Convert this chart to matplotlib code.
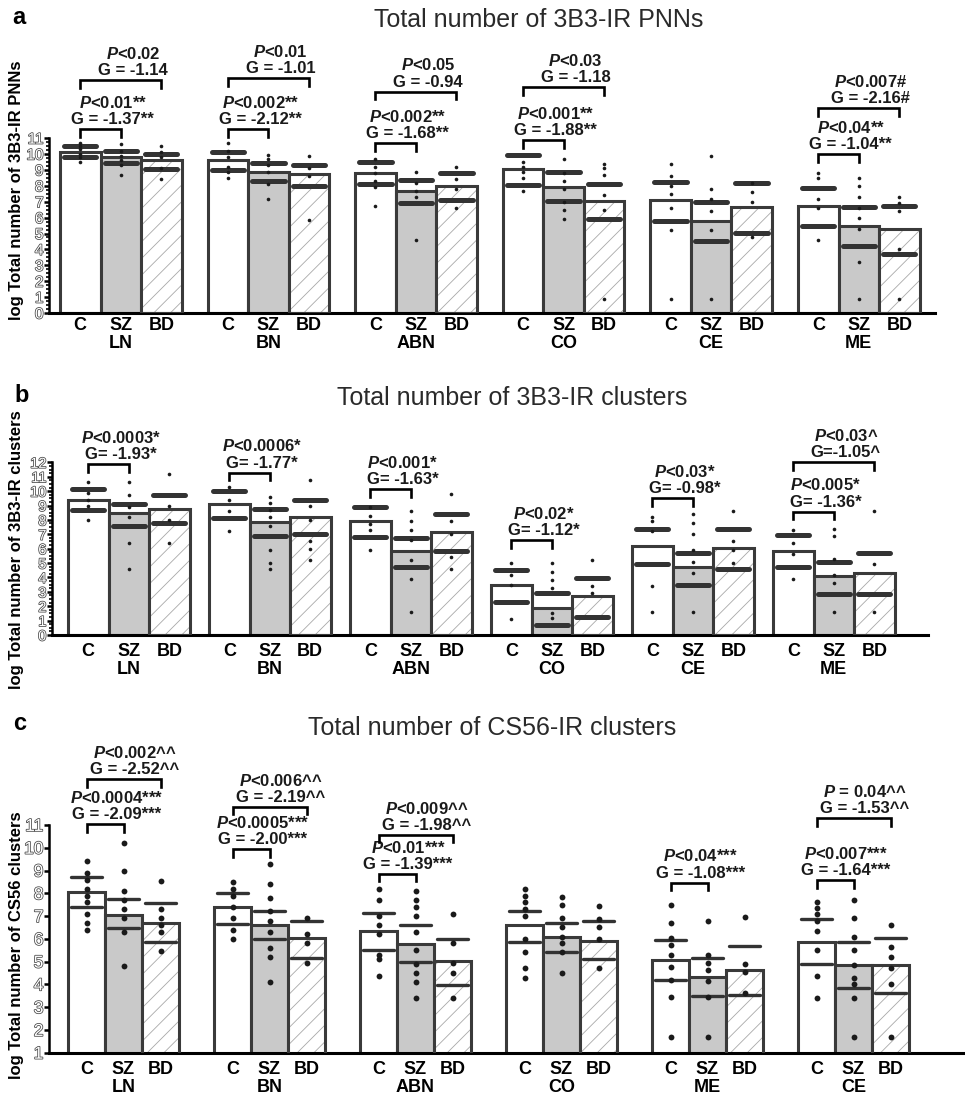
import matplotlib
matplotlib.use("Agg")
import matplotlib.pyplot as plt
import matplotlib.patheffects as pe
import matplotlib.transforms as mtransforms
from matplotlib.ticker import FixedLocator

plt.rcParams['font.family'] = ['Liberation Sans', 'DejaVu Sans']
plt.rcParams['mathtext.fontset'] = 'custom'
plt.rcParams['mathtext.it'] = 'Liberation Sans:bold:italic'
plt.rcParams['mathtext.rm'] = 'Liberation Sans:bold'
plt.rcParams['hatch.linewidth'] = 0.6

groups = ['C', 'SZ', 'BD']

# ---------------- panel a : 3B3-IR PNNs ----------------
a_regions = ['LN', 'BN', 'ABN', 'CO', 'CE', 'ME']
a_mean = [[10.15, 9.83, 9.6], [9.6, 8.9, 8.75], [8.8, 7.7, 8.0],
          [9.06, 7.9, 7.04], [7.1, 5.8, 6.65], [6.7, 5.5, 5.3]]
a_upper = [[10.52, 10.2, 9.98], [10.15, 9.45, 9.3], [9.52, 8.37, 8.79],
           [9.94, 8.85, 8.13], [8.26, 7.0, 8.18], [7.84, 6.69, 6.73]]
a_lower = [[9.83, 9.41, 9.04], [9.0, 8.3, 8.0], [8.1, 6.9, 7.1],
           [8.05, 7.04, 5.89], [5.79, 4.53, 5.05], [5.49, 4.21, 3.71]]
a_dots = [
    [[10.7, 10.5, 10.3, 10.0, 9.8, 9.5], [10.6, 10.2, 9.9, 9.6, 9.3, 8.7], [10.5, 10.1, 9.8, 9.1, 8.4]],
    [[10.7, 10.2, 9.8, 9.2, 8.9, 8.5], [9.95, 9.7, 9.3, 8.9, 8.1, 7.15], [9.85, 9.1, 8.6, 5.85]],
    [[9.7, 9.2, 8.8, 8.3, 7.9, 6.7], [8.85, 8.2, 7.7, 7.3, 4.6], [9.2, 8.4, 7.8, 6.6]],
    [[9.5, 9.2, 8.9, 8.5, 7.65], [9.7, 8.8, 8.3, 7.8, 7.0, 6.5, 5.9], [9.4, 9.1, 8.7, 7.4, 6.5, 0.9]],
    [[9.4, 8.6, 8.0, 7.5, 6.6, 5.2, 0.9], [9.9, 7.8, 7.2, 6.4, 5.2, 0.9], [8.2, 7.6, 7.0, 4.8]],
    [[8.8, 8.5, 7.2, 6.6, 4.6], [8.5, 8.0, 7.3, 6.6, 6.0, 5.3, 3.2, 0.9], [7.3, 6.9, 6.4, 4.0, 0.9]],
]
# (region, compared group, P line, G line, bracket height)
a_ann = [
    (0, 1, 'P<0.01**', 'G = -1.37**', 11.55),
    (0, 2, 'P<0.02', 'G = -1.14', 14.65),
    (1, 1, 'P<0.002**', 'G = -2.12**', 11.55),
    (1, 2, 'P<0.01', 'G = -1.01', 14.76),
    (2, 1, 'P<0.002**', 'G = -1.68**', 10.67),
    (2, 2, 'P<0.05', 'G = -0.94', 13.92),
    (3, 1, 'P<0.001**', 'G = -1.88**', 10.88),
    (3, 2, 'P<0.03', 'G = -1.18', 14.19),
    (5, 1, 'P<0.04**', 'G = -1.04**', 10.0),
    (5, 2, 'P<0.007#', 'G = -2.16#', 12.87),
]

# ---------------- panel b : 3B3-IR clusters ----------------
b_regions = ['LN', 'BN', 'ABN', 'CO', 'CE', 'ME']
b_mean = [[9.38, 8.45, 8.76], [9.1, 7.83, 8.22], [7.92, 5.84, 7.18],
          [3.47, 1.85, 2.71], [6.18, 4.7, 6.02], [5.84, 4.12, 4.29]]
b_upper = [[10.15, 9.13, 9.7], [10.0, 8.76, 9.36], [8.92, 6.76, 8.43],
           [4.54, 2.9, 3.98], [7.34, 5.72, 7.39], [6.95, 5.1, 5.67]]
b_lower = [[8.66, 7.6, 7.78], [8.1, 6.88, 7.02], [6.79, 4.73, 5.84],
           [2.27, 0.69, 1.27], [4.96, 3.47, 4.56], [4.7, 2.87, 2.85]]
b_dots = [
    [[10.65, 9.9, 9.4, 9.0, 8.0], [10.6, 9.7, 8.9, 8.2, 6.4, 4.6], [11.2, 9.0, 8.0, 6.4]],
    [[10.3, 9.4, 8.6, 7.2], [9.6, 9.2, 8.7, 8.2, 7.6, 5.9, 5.0, 4.6], [10.8, 9.0, 8.0, 6.5, 6.0, 5.2]],
    [[8.9, 8.3, 7.7, 7.3, 5.9], [8.6, 7.9, 7.3, 6.6, 5.2, 3.9, 1.6], [9.8, 7.9, 7.0, 5.4, 4.6]],
    [[5.0, 4.2, 3.5, 1.1], [5.0, 4.4, 3.8, 3.3, 1.5, 1.2], [5.2, 3.4, 2.9]],
    [[8.2, 7.9, 7.2, 3.4, 1.6], [8.4, 7.8, 7.0, 5.9, 5.1, 4.3, 1.6], [8.6, 6.5, 5.9, 5.0]],
    [[7.3, 6.4, 5.6, 3.9], [7.4, 6.9, 5.3, 4.2, 3.6, 1.6], [8.6, 4.9, 1.6]],
]
b_ann = [
    (0, 1, 'P<0.0003*', 'G= -1.93*', 11.86),
    (1, 1, 'P<0.0006*', 'G= -1.77*', 11.28),
    (2, 1, 'P<0.001*', 'G= -1.63*', 10.12),
    (3, 1, 'P<0.02*', 'G= -1.12*', 6.6),
    (4, 1, 'P<0.03*', 'G= -0.98*', 9.5),
    (5, 1, 'P<0.005*', 'G= -1.36*', 8.57),
    (5, 2, 'P<0.03^', 'G=-1.05^', 12.0),
]

# ---------------- panel c : CS56-IR clusters ----------------
c_regions = ['LN', 'BN', 'ABN', 'CO', 'ME', 'CE']
c_mean = [[8.07, 7.05, 6.71], [7.39, 6.61, 6.02], [6.36, 5.77, 5.03],
          [6.61, 6.1, 5.92], [5.07, 4.31, 4.63], [5.87, 4.85, 4.84]]
c_upper = [[8.73, 7.74, 7.56], [8.0, 7.22, 6.78], [7.12, 6.61, 5.99],
           [7.22, 6.71, 6.78], [5.95, 5.17, 5.7], [6.89, 5.87, 6.05]]
c_lower = [[7.39, 6.46, 5.87], [6.65, 5.98, 5.17], [5.51, 5.0, 3.99],
           [5.87, 5.44, 5.1], [4.19, 3.49, 3.53], [4.88, 3.86, 3.64]]
c_dots = [
    [[9.4, 8.9, 8.6, 8.2, 7.9, 7.6, 7.1, 6.7, 6.4], [10.2, 9.0, 8.1, 7.7, 7.3, 6.9, 6.3, 4.8],
     [8.55, 7.3, 6.9, 6.6, 6.3, 5.45]],
    [[8.5, 8.2, 7.9, 7.4, 6.9, 6.4, 6.0], [9.3, 8.4, 7.8, 7.2, 6.8, 6.3, 5.6, 5.2, 4.1], [6.9, 6.2, 5.8, 4.95]],
    [[8.2, 7.7, 7.0, 6.6, 6.2, 5.3, 5.1, 4.35], [8.1, 7.7, 7.4, 7.0, 6.3, 5.5, 4.9, 4.5, 4.1, 3.4],
     [7.1, 5.8, 4.95, 4.5, 3.4]],
    [[8.2, 7.9, 7.6, 7.3, 7.0, 6.0, 5.4, 4.7, 4.3], [7.85, 7.5, 6.9, 6.5, 6.1, 5.8, 5.4, 4.5],
     [7.45, 6.85, 6.5, 6.0, 4.7]],
    [[7.5, 6.7, 6.05, 5.75, 5.3, 4.75, 4.2, 3.45, 1.7], [6.8, 5.3, 4.95, 4.65, 4.15, 3.45, 1.7],
     [6.95, 4.9, 4.55, 3.6]],
    [[7.6, 7.35, 7.1, 6.8, 6.35, 5.5, 4.35, 3.4], [7.7, 6.9, 6.1, 5.5, 4.85, 4.3, 4.0, 3.4, 1.7],
     [6.6, 5.65, 5.2, 4.7, 4.0, 1.7]],
]
c_ann = [
    (0, 1, 'P<0.0004***', 'G = -2.09***', 11.04),
    (0, 2, 'P<0.002^^', 'G = -2.52^^', 13.0),
    (1, 1, 'P<0.0005***', 'G = -2.00***', 9.93),
    (1, 2, 'P<0.006^^', 'G = -2.19^^', 11.8),
    (2, 1, 'P<0.01***', 'G = -1.39***', 8.85),
    (2, 2, 'P<0.009^^', 'G = -1.98^^', 10.56),
    (4, 1, 'P<0.04***', 'G = -1.08***', 8.47),
    (5, 1, 'P<0.007***', 'G = -1.64***', 8.58),
    (5, 2, 'P = 0.04^^', 'G = -1.53^^', 11.29),
]

W, H = 965, 1099
fig = plt.figure(figsize=(W / 100, H / 100), dpi=100)


def panel(box, ymin, ytop, ymax_tick, bw_px, first_px, step_px,
          regions, mean, upper, lower, dots, ann, title, ylabel, letter,
          ylab_center, tick_fs, minor, sd_lw, sd_len, dot_ms, lab_off):
    L, T, R, B = box
    ax = fig.add_axes([L / W, 1 - B / H, (R - L) / W, (B - T) / H])
    c0 = first_px + bw_px / 2
    ax.set_xlim((L - c0) / bw_px, (R - c0) / bw_px)
    ax.set_ylim(ymin, ytop)
    step = step_px / bw_px
    u_per_px = (ytop - ymin) / (B - T)
    off = mtransforms.offset_copy(ax.transData, fig=fig, x=0, y=2, units='dots')

    for r, reg in enumerate(regions):
        xs = [r * step + k for k in range(3)]
        ax.bar(xs[0], mean[r][0], width=1, bottom=0, color='white',
               edgecolor='#3a3a3a', linewidth=2.2, zorder=2)
        ax.bar(xs[1], mean[r][1], width=1, bottom=0, color='#c9c9c9',
               edgecolor='#3a3a3a', linewidth=2.2, zorder=2)
        ax.bar(xs[2], mean[r][2], width=1, bottom=0, color='white',
               edgecolor='#a8a8a8', hatch='//', linewidth=0, zorder=2)
        ax.bar(xs[2], mean[r][2], width=1, bottom=0, fill=False,
               edgecolor='#3a3a3a', linewidth=2.2, zorder=3)
        for k in range(3):
            for v in (upper[r][k], lower[r][k]):
                ax.plot([xs[k] - sd_len / 2, xs[k] + sd_len / 2], [v, v],
                        color='#333333', lw=sd_lw, solid_capstyle='round', zorder=4)
            ax.plot([xs[k]] * len(dots[r][k]), dots[r][k], 'o', color='#1a1a1a',
                    ms=dot_ms, mew=0, zorder=5)
            ax.annotate(groups[k], xy=(xs[k], 0), xycoords=('data', 'axes fraction'),
                        xytext=(0, -lab_off), textcoords='offset pixels',
                        ha='center', va='center', fontsize=13, fontweight='bold',
                        annotation_clip=False)
        ax.annotate(reg, xy=(xs[1], 0), xycoords=('data', 'axes fraction'),
                    xytext=(0, -lab_off - 18), textcoords='offset pixels',
                    ha='center', va='center', fontsize=13, fontweight='bold',
                    annotation_clip=False)

    leg = 7.5 * u_per_px
    for r, k, ptxt, gtxt, yb in ann:
        x0 = r * step
        x1 = r * step + k
        ax.plot([x0, x0, x1, x1], [yb - leg, yb, yb, yb - leg], color='black',
                lw=1.9, solid_joinstyle='miter', clip_on=False, zorder=5)
        label = '$P$' + ptxt[1:] + '\n' + gtxt
        ax.text((x0 + x1) / 2 + 0.3, yb, label, transform=off, ha='center',
                va='bottom', fontsize=12, fontweight='bold', linespacing=1.1,
                color='#1a1a1a', clip_on=False)

    for s in ('top', 'right'):
        ax.spines[s].set_visible(False)
    ax.spines['left'].set_bounds(ymin, ymax_tick)
    ax.spines['left'].set_linewidth(1.8)
    ax.spines['bottom'].set_linewidth(2.2)
    ax.spines['left'].set_zorder(6)
    ax.set_xticks([])
    ax.set_yticks(range(int(ymin), ymax_tick + 1))
    if minor:
        n = int(round((ymax_tick - ymin) / minor))
        ax.yaxis.set_minor_locator(FixedLocator([ymin + i * minor for i in range(n + 1)]))
        ax.tick_params(axis='y', which='minor', length=2.5, width=1.2, color='black')
    ax.tick_params(axis='y', which='major', length=3.5, width=1.8, pad=0.5,
                   labelsize=tick_fs, color='black')
    ax.set_ylim(ymin, ytop)
    for t in ax.get_yticklabels():
        t.set_color('white')
        t.set_path_effects([pe.withStroke(linewidth=1.1, foreground='#444444')])
    ax.patch.set_alpha(0)

    fig.text(title[1] / W, 1 - title[2] / H, title[0], ha='center', va='center',
             fontsize=18, color='#2a2a2a')
    fig.text(letter[1] / W, 1 - letter[2] / H, letter[0], ha='center', va='center',
             fontsize=17, fontweight='bold')
    fig.text(17 / W, 1 - ylab_center / H, ylabel, rotation=90, ha='center',
             va='center', fontsize=12, fontweight='bold')
    return ax


panel((49, 30, 935, 313), 0, 17.8, 11, 40.5, 60, 147.6,
      a_regions, a_mean, a_upper, a_lower, a_dots, a_ann,
      ('Total number of 3B3-IR PNNs', 539, 20),
      'log Total number of 3B3-IR PNNs', ('a', 19, 18), 190,
      11, 0.25, 3.6, 0.8, 2.6, 13)

panel((52, 415, 928, 635), 0, 15.29, 12, 40.5, 68, 141,
      b_regions, b_mean, b_upper, b_lower, b_dots, b_ann,
      ('Total number of 3B3-IR clusters', 512, 398),
      'log Total number of 3B3-IR clusters', ('b', 22, 395), 550,
      10.5, 0.25, 3.6, 0.8, 2.6, 16)

panel((49, 740, 965, 1052.7), 1, 14.73, 11, 37, 68, 146,
      c_regions, c_mean, c_upper, c_lower, c_dots, c_ann,
      ('Total number of CS56-IR clusters', 492, 728),
      'log Total number of CS56 clusters', ('c', 20, 723), 945,
      12.5, None, 2.4, 0.85, 4.2, 17)

fig.savefig('out.png', dpi=100, facecolor='white')
